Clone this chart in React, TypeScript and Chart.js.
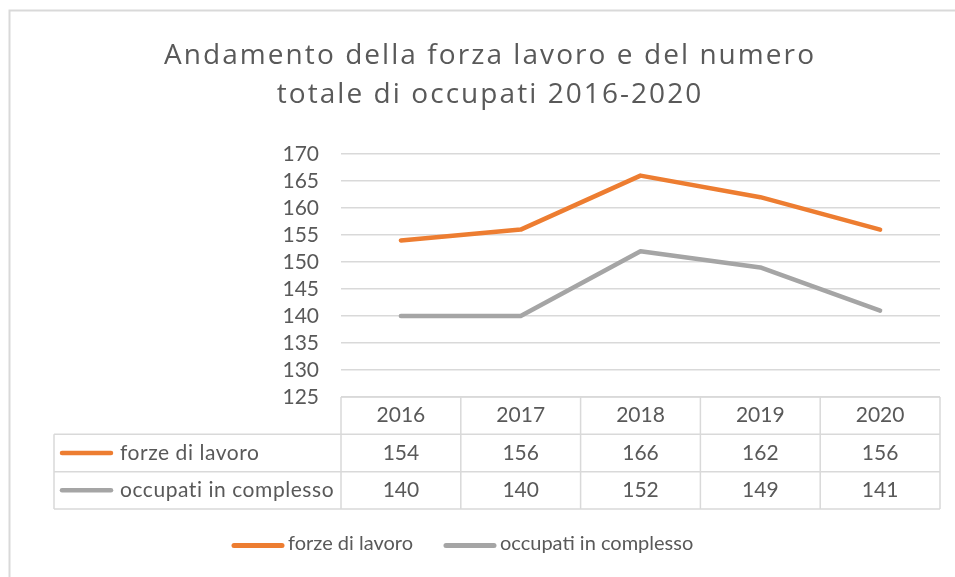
import React, { useEffect, useRef } from "react";
import { Chart, registerables } from "chart.js";

Chart.register(...registerables);

const years = ["2016", "2017", "2018", "2019", "2020"];
const forzeLavoro = [154, 156, 166, 162, 156];
const occupati = [140, 140, 152, 149, 141];
const seriesNames = ["forze di lavoro", "occupati in complesso"];
const seriesColors = ["#ED7D31", "#A5A5A5"];
const titleLines = ["Andamento della forza lavoro e del numero", "totale di occupati 2016-2020"];
const yMin = 125;
const yMax = 170;
const yStep = 5;

const FONT = "Lato, 'Noto Sans', sans-serif";
const TITLE_FONT = "'Open Sans', Lato, sans-serif";
const TEXT = "#595959";
const LINE = "#d9d9d9";

const decorPlugin = {
  id: "decor",
  afterDraw(chart: any) {
    const ctx = chart.ctx;
    const xs = chart.scales.x;
    const n = chart.data.labels.length;
    const colW = (xs.right - xs.left) / n;
    const top = xs.top;
    const rowH = (xs.bottom - xs.top) / 3;
    const tableLeft = 54;
    ctx.save();
    // outer chart border (top and left visible)
    ctx.strokeStyle = LINE;
    ctx.lineWidth = 2;
    ctx.beginPath();
    ctx.moveTo(9.5, chart.height);
    ctx.lineTo(9.5, 10.5);
    ctx.lineTo(chart.width, 10.5);
    ctx.stroke();

    // title
    ctx.fillStyle = TEXT;
    ctx.font = `28px ${TITLE_FONT}`;
    ctx.textAlign = "center";
    ctx.textBaseline = "alphabetic";
    (ctx as any).letterSpacing = "0px";
    const w0 = ctx.measureText(titleLines[0]).width;
    const spacing = Math.max(0, (652 - w0) / titleLines[0].length);
    (ctx as any).letterSpacing = `${spacing}px`;
    titleLines.forEach((t, i) => {
      ctx.fillText(t, 489 + spacing / 2, 64 + i * 39);
    });
    (ctx as any).letterSpacing = "0px";

    // data table grid
    ctx.lineWidth = 1.5;
    ctx.strokeStyle = LINE;
    ctx.beginPath();
    ctx.moveTo(xs.left, top);
    ctx.lineTo(xs.right, top);
    for (let r = 1; r <= 3; r++) {
      ctx.moveTo(tableLeft, top + r * rowH);
      ctx.lineTo(xs.right, top + r * rowH);
    }
    for (let k = 0; k <= n; k++) {
      const x = xs.left + k * colW;
      ctx.moveTo(x, top);
      ctx.lineTo(x, xs.bottom);
    }
    ctx.moveTo(tableLeft, top + rowH);
    ctx.lineTo(tableLeft, xs.bottom);
    ctx.stroke();

    ctx.fillStyle = TEXT;
    ctx.font = `21px ${FONT}`;
    ctx.textAlign = "center";
    ctx.textBaseline = "middle";
    for (let i = 0; i < n; i++) {
      const cx = xs.getPixelForValue(i);
      ctx.fillText(String(chart.data.labels[i]), cx, top + rowH / 2);
    }
    chart.data.datasets.forEach((ds: any, d: number) => {
      const cy = top + rowH * (d + 1.5);
      ctx.textAlign = "center";
      for (let i = 0; i < n; i++) {
        const cx = xs.getPixelForValue(i);
        ctx.fillText(String(ds.data[i]), cx, cy);
      }
      ctx.strokeStyle = ds.borderColor;
      ctx.lineWidth = 4.5;
      ctx.lineCap = "round";
      ctx.beginPath();
      ctx.moveTo(tableLeft + 8, cy);
      ctx.lineTo(tableLeft + 57, cy);
      ctx.stroke();
      ctx.textAlign = "left";
      (ctx as any).letterSpacing = "0.55px";
      ctx.fillText(ds.label, tableLeft + 66, cy);
      (ctx as any).letterSpacing = "0px";
    });

    // legend
    ctx.font = `20px ${FONT}`;
    ctx.textAlign = "left";
    ctx.textBaseline = "middle";
    let lx = 234;
    const ly = 545.5;
    chart.data.datasets.forEach((ds: any) => {
      ctx.strokeStyle = ds.borderColor;
      ctx.lineWidth = 5;
      ctx.lineCap = "round";
      ctx.beginPath();
      ctx.moveTo(lx, ly);
      ctx.lineTo(lx + 48, ly);
      ctx.stroke();
      ctx.fillStyle = TEXT;
      ctx.fillText(ds.label, lx + 54, ly - 2);
      lx += 54 + ctx.measureText(ds.label).width + 33;
    });
    ctx.restore();
  },
};

export default function App() {
  const ref = useRef<HTMLCanvasElement>(null);
  useEffect(() => {
    if (!ref.current) return;
    const chart = new Chart(ref.current, {
      type: "line",
      data: {
        labels: years,
        datasets: [
          {
            label: seriesNames[0],
            data: forzeLavoro,
            borderColor: seriesColors[0],
            backgroundColor: seriesColors[0],
            borderWidth: 4.5,
            pointRadius: 0,
            borderCapStyle: "round",
            borderJoinStyle: "round",
          },
          {
            label: seriesNames[1],
            data: occupati,
            borderColor: seriesColors[1],
            backgroundColor: seriesColors[1],
            borderWidth: 4.5,
            pointRadius: 0,
            borderCapStyle: "round",
            borderJoinStyle: "round",
          },
        ],
      },
      options: {
        animation: false,
        responsive: true,
        maintainAspectRatio: false,
        layout: { padding: { left: 0, right: 15, top: 154, bottom: 68 } },
        plugins: {
          title: { display: false },
          legend: { display: false },
          tooltip: { enabled: false },
        },
        scales: {
          x: {
            type: "category",
            offset: true,
            grid: { display: false },
            border: { display: false },
            ticks: { display: false },
            afterFit: (s: any) => {
              s.height = 112;
            },
          },
          y: {
            min: yMin,
            max: yMax,
            border: { display: false },
            grid: { color: LINE, lineWidth: 1.5, drawTicks: false },
            ticks: {
              stepSize: yStep,
              autoSkip: false,
              color: TEXT,
              padding: 22,
              font: { family: FONT, size: 21 },
            },
            afterFit: (s: any) => {
              s.width = 341;
            },
          },
        },
      },
      plugins: [decorPlugin],
    });
    return () => chart.destroy();
  }, []);
  return (
    <div style={{ position: "absolute", left: 0, top: 0, width: 955, height: 577 }}>
      <canvas ref={ref} />
    </div>
  );
}
